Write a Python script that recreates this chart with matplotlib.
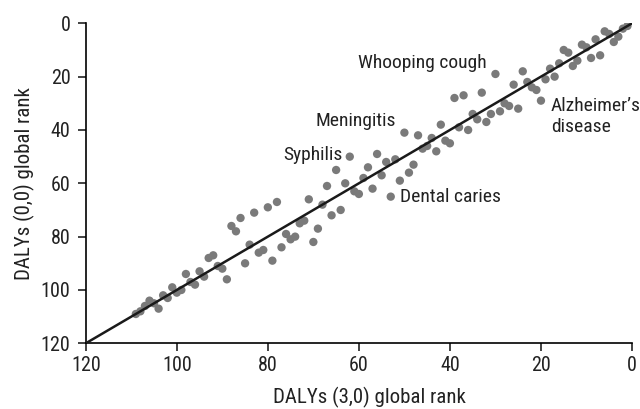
import matplotlib
matplotlib.use('Agg')
import matplotlib.pyplot as plt
from matplotlib import font_manager as fm

# pick a narrow sans if one is around, else condensed DejaVu
names = {f.name for f in fm.fontManager.ttflist}
stretch = 'normal'
family = 'DejaVu Sans'
for cand in ['Roboto Condensed', 'Liberation Sans Narrow', 'Open Sans Condensed', 'Noto Sans Condensed']:
    if cand in names:
        family = cand
        break
else:
    if any(f.name == 'DejaVu Sans' and str(f.stretch) == 'condensed' for f in fm.fontManager.ttflist):
        stretch = 'condensed'
plt.rcParams['font.family'] = [family, 'DejaVu Sans']
plt.rcParams['font.stretch'] = stretch

# global rank under DALYs (3,0) and DALYs (0,0)
rank_30 = list(range(109, 0, -1))
rank_00 = [109, 108, 106, 104, 105, 107, 102, 103, 99, 101,
           100, 94, 97, 98, 93, 95, 88, 87, 91, 92,
           96, 76, 78, 73, 90, 83, 71, 86, 85, 69,
           89, 67, 84, 79, 81, 80, 75, 74, 66, 82,
           77, 68, 61, 72, 55, 70, 60, 50, 63, 64,
           58, 54, 62, 49, 57, 52, 65, 51, 59, 41,
           56, 53, 42, 47, 46, 43, 48, 38, 44, 45,
           28, 39, 27, 40, 34, 36, 26, 37, 34, 19,
           33, 30, 31, 23, 32, 18, 22, 24, 25, 29,
           21, 17, 20, 15, 10, 11, 16, 14, 8, 9,
           13, 6, 12, 3, 4, 7, 5, 2, 1]

labels = ['Whooping cough', 'Meningitis', 'Syphilis', 'Dental caries', "Alzheimer\u2019s\ndisease"]
label_pos = [(60.2, 15.0), (69.5, 36.6), (76.7, 49.4), (51.0, 65.1), (17.8, 34.8)]

fig = plt.figure(figsize=(6.4, 4.09), dpi=100)
ax = fig.add_axes([0.134, 0.1606, 0.8535, 0.7824])

ax.scatter(rank_30, rank_00, s=36, color='#7a7a7a', edgecolors='none', zorder=2)
ax.plot([120, 0], [120, 0], color='#1a1a1a', lw=1.8, zorder=3)

for txt, (x, y) in zip(labels, label_pos):
    ax.text(x, y, txt, fontsize=14, color='#222222', ha='left', va='center', linespacing=1.2)

ax.set_xlim(120, 0)
ax.set_ylim(120, 0)
ax.set_xticks([120, 100, 80, 60, 40, 20, 0])
ax.set_yticks([0, 20, 40, 60, 80, 100, 120])
ax.spines['top'].set_visible(False)
ax.spines['right'].set_visible(False)
ax.spines['left'].set_linewidth(1.2)
ax.spines['bottom'].set_linewidth(1.2)
ax.tick_params(direction='out', length=6, width=1.2, labelsize=14.5, colors='#222222')
ax.tick_params(axis='y', pad=5)
ax.tick_params(axis='x', pad=3)
ax.set_xlabel('DALYs (3,0) global rank', fontsize=15, color='#222222', labelpad=8)
ax.set_ylabel('DALYs (0,0) global rank', fontsize=15, color='#222222', labelpad=4)
ax.xaxis.set_label_coords(0.52, -0.135)

fig.savefig('out.png', dpi=100)
